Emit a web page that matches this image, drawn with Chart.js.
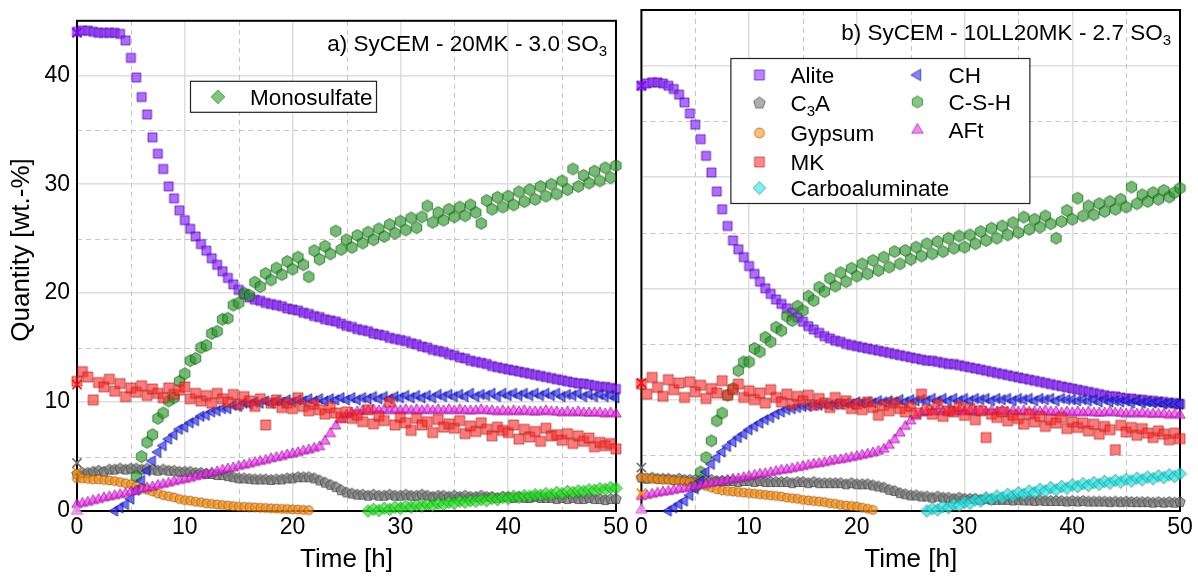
<!DOCTYPE html>
<html>
<head>
<meta charset="utf-8">
<script src="https://cdn.jsdelivr.net/npm/chart.js@4.4.1/dist/chart.umd.min.js"></script>
<style>
  html, body { margin: 0; padding: 0; background: #fff; }
  #wrap { position: relative; width: 1198px; height: 576px; }
  canvas { position: absolute; top: 0; }
  #ca { left: 0; }
  #cb { left: 632px; }
</style>
</head>
<body>
<div id="wrap">
  <canvas id="ca" width="632" height="576"></canvas>
  <canvas id="cb" width="566" height="576"></canvas>
</div>
<script>
// ---- axis ticks ----
const X_TICKS = [0, 10, 20, 30, 40, 50];
const Y_TICKS = [0, 10, 20, 30, 40];
const X_MINOR = [5, 15, 25, 35, 45];
const Y_MINOR = [5, 15, 25, 35];
const STEP = 0.5; // hours between measurements

// ---- panel a) SyCEM - 20MK - 3.0 SO3 ----
const ALITE_A = [
  44.0,44.1,44.1,44.0,43.9,43.9,43.9,43.9,43.8,43.2,
  41.6,39.8,38.0,36.4,34.3,32.8,31.4,29.8,28.7,27.6,
  26.7,25.9,25.2,24.5,23.9,23.2,22.6,22.0,21.4,20.8,
  20.3,19.9,19.6,19.4,19.3,19.1,19.0,18.9,18.8,18.6,
  18.5,18.4,18.2,18.1,17.9,17.8,17.6,17.5,17.4,17.2,
  17.0,16.9,16.7,16.6,16.5,16.3,16.2,16.1,15.9,15.8,
  15.7,15.6,15.4,15.3,15.1,15.0,14.8,14.7,14.6,14.4,
  14.3,14.1,14.0,13.8,13.7,13.6,13.5,13.3,13.2,13.1,
  13.0,12.9,12.8,12.7,12.6,12.5,12.4,12.3,12.2,12.1,
  12.0,11.9,11.8,11.7,11.7,11.6,11.5,11.4,11.4,11.3,
  11.2
];
const MK_A = [
  11.9,12.8,12.3,10.2,11.8,11.4,12.1,11.0,11.7,10.5,
  11.3,10.9,11.5,10.6,11.2,10.8,10.4,11.3,10.7,11.1,
  11.4,10.3,10.8,10.1,10.6,9.9,10.8,10.3,10.0,10.7,
  9.8,10.5,10.1,9.6,10.3,7.9,9.9,10.2,9.5,9.9,
  9.4,10.4,9.6,9.2,9.8,9.3,8.9,9.5,9.0,8.6,
  9.1,8.5,8.8,8.2,9.3,8.0,8.7,8.3,10.0,7.9,
  8.6,8.1,7.4,8.5,7.9,8.2,7.2,8.4,7.7,8.0,
  7.6,8.3,7.1,7.8,7.3,8.1,7.5,6.9,7.7,7.4,
  7.2,7.9,6.6,7.5,6.8,7.3,6.4,7.6,6.9,7.0,
  6.5,7.1,6.2,6.9,6.4,6.7,5.9,6.3,6.0,6.2,
  5.7
];
const C3A_A = [
  3.4,3.5,3.5,3.6,3.7,3.6,3.8,3.8,3.9,3.8,
  3.9,3.9,3.8,3.9,3.8,3.7,3.8,3.7,3.7,3.6,
  3.6,3.6,3.5,3.5,3.4,3.4,3.3,3.3,3.2,3.1,
  3.0,3.0,2.95,2.9,2.9,2.9,2.85,2.9,2.9,3.0,
  3.0,3.1,3.1,3.1,3.0,2.8,2.6,2.4,2.2,1.9,
  1.7,1.6,1.5,1.5,1.4,1.5,1.4,1.4,1.5,1.4,
  1.4,1.5,1.4,1.4,1.5,1.4,1.3,1.4,1.4,1.3,
  1.4,1.3,1.4,1.3,1.3,1.4,1.3,1.3,1.2,1.3,
  1.3,1.2,1.3,1.2,1.2,1.3,1.2,1.2,1.2,1.1,
  1.2,1.1,1.2,1.1,1.1,1.2,1.1,1.1,1.0,1.1,
  1.1
];
const GYPSUM_A = [
  3.0,3.0,2.95,2.9,2.9,2.85,2.8,2.75,2.65,2.55,
  2.45,2.3,2.1,1.95,1.8,1.6,1.45,1.35,1.25,1.1,
  1.0,0.95,0.85,0.8,0.7,0.65,0.6,0.55,0.5,0.45,
  0.4,0.38,0.35,0.33,0.3,0.28,0.25,0.22,0.2,0.18,
  0.15,0.13,0.1,0.08
];
const CH_A_START = 3.5;
const CH_A = [
  0.0,0.3,0.6,1.1,1.9,2.8,3.7,4.6,5.4,6.0,
  6.6,7.0,7.5,7.7,8.1,8.3,8.7,8.8,9.1,9.2,
  9.4,9.4,9.7,9.6,9.9,9.8,10.0,9.9,10.1,9.9,
  10.1,10.0,10.2,10.0,10.2,10.1,10.3,10.1,10.3,10.1,
  10.3,10.2,10.4,10.2,10.4,10.2,10.4,10.3,10.5,10.3,
  10.5,10.3,10.5,10.4,10.6,10.4,10.6,10.4,10.6,10.4,
  10.7,10.5,10.7,10.5,10.7,10.5,10.8,10.5,10.7,10.6,
  10.8,10.5,10.8,10.6,10.8,10.6,10.8,10.6,10.8,10.6,
  10.8,10.6,10.8,10.5,10.7,10.6,10.8,10.5,10.7,10.5,
  10.7,10.5,10.6,10.4
];
const CSH_A_START = 5.5;
const CSH_A = [
  3.2,5.0,6.3,7.0,8.5,9.0,10.1,10.4,11.9,12.6,
  13.8,14.0,15.0,15.2,16.3,16.5,17.6,17.7,18.9,19.1,
  20.0,19.8,21.0,20.6,21.8,21.2,22.3,21.7,22.9,22.2,
  23.3,22.6,21.5,23.9,23.1,24.3,23.6,25.7,24.0,24.9,
  24.2,25.3,24.6,25.6,24.9,25.9,25.2,26.3,25.5,26.6,
  25.8,26.9,26.0,27.0,28.0,26.5,27.4,26.7,27.7,27.0,
  27.9,27.1,28.1,27.4,26.4,28.5,27.7,28.8,27.9,28.9,
  28.1,29.3,28.4,29.5,28.6,29.8,28.9,30.0,29.1,30.3,
  29.5,31.4,29.8,30.8,30.1,31.2,30.3,31.5,30.6,31.7
];
const AFT_A = [
  0.6,0.7,0.8,0.95,1.05,1.2,1.3,1.4,1.5,1.6,
  1.75,1.85,2.0,2.1,2.2,2.35,2.45,2.55,2.7,2.8,
  2.9,3.0,3.15,3.25,3.4,3.5,3.6,3.75,3.85,3.95,
  4.1,4.2,4.3,4.45,4.55,4.65,4.8,4.9,5.0,5.15,
  5.25,5.35,5.5,5.6,5.75,5.9,6.4,7.1,7.8,8.4,
  8.8,9.0,9.1,9.2,9.2,9.3,9.2,9.3,9.2,9.3,
  9.2,9.3,9.2,9.3,9.2,9.3,9.2,9.3,9.2,9.3,
  9.2,9.3,9.2,9.2,9.2,9.3,9.2,9.2,9.1,9.2,
  9.1,9.2,9.1,9.2,9.1,9.1,9.1,9.2,9.1,9.1,
  9.0,9.1,9.0,9.1,9.0,9.0,9.0,9.0,8.9,9.0,
  8.9
];
const MONO_A_START = 27;
const MONO_A = [
  0.0,0.15,0.05,0.25,0.15,0.35,0.25,0.45,0.35,0.5,
  0.45,0.6,0.5,0.7,0.6,0.8,0.7,0.9,0.8,0.95,
  0.9,1.05,0.95,1.15,1.05,1.25,1.15,1.35,1.25,1.4,
  1.35,1.5,1.45,1.6,1.5,1.7,1.6,1.8,1.7,1.85,
  1.8,1.95,1.9,2.05,2.0,2.15,2.1
];

// ---- panel b) SyCEM - 10LL20MK - 2.7 SO3 ----
const ALITE_B = [
  38.2,38.4,38.5,38.5,38.4,38.2,37.9,37.4,36.7,35.7,
  34.7,33.4,31.9,30.4,28.7,27.1,25.6,24.3,23.5,22.8,
  22.0,21.3,20.6,20.0,19.5,19.0,18.6,18.2,17.8,17.4,
  17.0,16.6,16.3,16.0,15.7,15.5,15.3,15.2,15.0,14.9,
  14.8,14.7,14.6,14.5,14.4,14.3,14.2,14.1,14.0,13.9,
  13.8,13.7,13.6,13.5,13.5,13.4,13.3,13.2,13.2,13.1,
  13.0,12.9,12.8,12.7,12.6,12.5,12.4,12.3,12.2,12.1,
  12.0,11.9,11.8,11.7,11.6,11.5,11.4,11.3,11.2,11.1,
  11.0,10.9,10.8,10.7,10.6,10.5,10.4,10.3,10.3,10.2,
  10.1,10.1,10.0,10.0,9.9,9.9,9.8,9.8,9.7,9.7,
  9.6
];
const MK_B = [
  11.4,10.5,12.0,11.1,10.3,11.8,10.9,11.5,10.2,11.6,
  10.7,11.3,10.1,11.0,10.6,11.7,10.4,10.9,11.4,10.2,
  10.8,10.0,10.6,9.7,10.9,10.2,9.8,10.5,9.6,10.3,
  9.9,10.4,9.5,10.1,9.7,9.3,10.2,9.6,9.9,9.2,
  9.6,9.1,9.8,9.3,8.6,9.5,9.0,9.7,9.2,8.9,
  9.4,8.8,10.5,9.1,8.7,9.6,8.5,9.0,8.9,9.4,
  8.6,9.2,8.2,9.0,6.6,8.7,8.4,8.9,8.1,8.6,
  8.3,7.8,8.7,8.0,8.5,7.6,8.2,7.9,8.4,7.4,
  8.0,7.5,7.9,7.2,7.8,6.9,7.6,7.3,5.5,7.7,
  7.1,7.5,6.8,7.4,7.0,6.6,7.2,6.9,6.4,7.0,
  6.5
];
const C3A_B = [
  3.0,2.9,3.0,2.9,2.9,2.9,2.8,2.9,2.8,2.8,
  2.8,2.8,2.7,2.8,2.7,2.7,2.7,2.7,2.6,2.7,
  2.7,2.6,2.7,2.6,2.6,2.6,2.6,2.6,2.5,2.6,
  2.6,2.5,2.6,2.5,2.5,2.5,2.5,2.5,2.4,2.5,
  2.4,2.4,2.4,2.3,2.2,2.1,1.9,1.8,1.6,1.5,
  1.4,1.4,1.3,1.3,1.2,1.3,1.2,1.2,1.1,1.2,
  1.1,1.1,1.1,1.0,1.1,1.0,1.0,1.0,1.0,0.95,
  1.0,0.95,0.95,0.9,0.95,0.9,0.9,0.9,0.9,0.85,
  0.9,0.85,0.9,0.85,0.85,0.85,0.85,0.8,0.85,0.8,
  0.85,0.8,0.8,0.8,0.8,0.75,0.8,0.75,0.8,0.75,
  0.8
];
const GYPSUM_B = [
  3.0,2.95,2.9,2.85,2.8,2.8,2.75,2.7,2.65,2.6,
  2.5,2.4,2.25,2.1,1.95,1.85,1.8,1.75,1.7,1.65,
  1.6,1.55,1.5,1.45,1.4,1.35,1.3,1.2,1.15,1.1,
  1.0,0.95,0.9,0.85,0.8,0.7,0.65,0.55,0.5,0.45,
  0.4,0.3,0.2,0.1
];
const CARBO_B_START = 26.5;
const CARBO_B = [
  0.0,0.2,0.1,0.4,0.3,0.6,0.5,0.8,0.7,1.0,
  0.9,1.2,1.05,1.35,1.2,1.5,1.35,1.65,1.5,1.8,
  1.65,1.95,1.8,2.1,1.9,2.2,2.05,2.35,2.2,2.45,
  2.3,2.55,2.4,2.65,2.5,2.75,2.6,2.85,2.7,2.95,
  2.8,3.05,2.9,3.15,3.0,3.25,3.1,3.35
];
const CH_B_START = 2.5;
const CH_B = [
  0.0,0.3,0.6,0.9,1.4,2.0,2.7,3.5,4.2,4.8,
  5.3,5.8,6.2,6.6,6.9,7.3,7.6,7.9,8.2,8.4,
  8.7,8.9,9.1,9.2,9.3,9.4,9.4,9.5,9.5,9.6,
  9.5,9.6,9.6,9.7,9.6,9.8,9.7,9.8,9.7,9.9,
  9.8,9.9,9.8,10.0,9.8,10.0,9.9,10.0,9.9,10.1,
  9.9,10.1,9.9,10.1,9.9,10.1,9.9,10.1,10.0,10.1,
  9.9,10.1,10.0,10.1,9.9,10.1,10.0,10.1,9.9,10.1,
  10.0,10.1,9.9,10.1,10.0,10.0,9.9,10.0,9.9,10.0,
  9.8,10.0,9.8,9.9,9.8,9.9,9.7,9.9,9.7,9.8,
  9.7,9.8,9.6,9.7,9.6,9.6
];
const CSH_B_START = 5;
const CSH_B = [
  2.2,3.5,4.8,6.3,8.1,8.8,10.4,11.0,12.6,13.4,
  13.4,14.6,14.3,15.6,15.2,16.5,16.2,17.5,17.1,18.4,
  18.0,19.3,18.9,20.1,19.7,20.9,20.2,21.4,20.6,21.8,
  21.1,22.2,21.3,22.5,21.6,22.8,21.9,23.3,22.2,23.4,
  22.6,23.7,22.9,24.0,23.1,24.2,23.3,24.5,23.6,24.7,
  23.7,24.8,24.0,25.1,24.3,25.4,24.5,25.6,24.8,25.9,
  25.0,26.4,25.3,26.2,25.5,26.5,25.8,24.5,26.0,27.0,
  26.2,28.1,26.5,27.4,26.6,27.6,26.9,27.8,27.1,28.0,
  27.3,29.1,27.6,28.4,27.8,28.6,28.0,28.8,28.2,28.6,
  29.0
];
const AFT_B = [
  1.3,1.4,1.5,1.6,1.7,1.75,1.85,1.95,2.0,2.1,
  2.2,2.3,2.4,2.5,2.55,2.65,2.75,2.85,2.9,3.0,
  3.1,3.2,3.3,3.35,3.45,3.55,3.65,3.7,3.8,3.9,
  4.0,4.1,4.2,4.25,4.35,4.45,4.55,4.6,4.7,4.8,
  4.9,5.0,5.1,5.2,5.35,5.55,5.9,6.4,7.0,7.6,
  8.1,8.5,8.8,8.9,8.9,9.0,8.9,9.0,8.9,9.0,
  8.9,9.0,8.9,9.0,8.9,9.0,8.9,9.0,8.9,9.0,
  8.9,9.0,8.9,8.9,8.9,9.0,8.9,8.9,8.8,8.9,
  8.8,8.9,8.8,8.9,8.8,8.8,8.8,8.9,8.8,8.8,
  8.7,8.8,8.7,8.8,8.7,8.7,8.7,8.7,8.6,8.7,
  8.6
];

// initial (t = 0) values, shown as crosses
const INIT_NAMES = ['Alite', 'MK', 'C3A', 'Gypsum'];
const INIT_A = [43.9, 11.6, 4.4, 3.6];
const INIT_B = [38.2, 11.5, 3.9, 1.6];
const AFT0_A = 0.0;
const AFT0_B = 0.1;

const FONT = "'Liberation Sans', Arial, sans-serif";
Chart.defaults.font.family = FONT;
Chart.defaults.color = '#000';

// marker images (pentagon / hexagon / left triangle are not built in)
function marker(shape, size, fill, stroke) {
  const c = document.createElement('canvas');
  const d = Math.ceil(size + 4);
  c.width = c.height = d;
  const g = c.getContext('2d');
  const m = d / 2, r = size / 2;
  g.beginPath();
  if (shape === 'square') {
    g.rect(m - r, m - r, size, size);
  } else if (shape === 'circle') {
    g.arc(m, m, r, 0, Math.PI * 2);
  } else {
    const [n, a0, k] = {up: [3, -90, 1.2], left: [3, 180, 1.2], diamond: [4, -90, 1.15],
      pentagon: [5, -90, 1.1], hexagon: [6, -90, 1.08]}[shape];
    for (let i = 0; i < n; i++) {
      const a = (a0 + i * 360 / n) * Math.PI / 180;
      const px = m + Math.cos(a) * r * k, py = m + Math.sin(a) * r * k;
      if (i) g.lineTo(px, py); else g.moveTo(px, py);
    }
    g.closePath();
  }
  g.fillStyle = fill;
  g.fill();
  g.lineWidth = 0.8;
  g.strokeStyle = stroke;
  g.stroke();
  return c;
}

const MARK = {
  Alite: marker('square', 9, 'rgba(135,40,250,0.68)', 'rgba(70,0,150,0.85)'),
  C3A: marker('pentagon', 10, 'rgba(115,115,115,0.68)', 'rgba(55,55,55,0.85)'),
  Gypsum: marker('circle', 9, 'rgba(245,145,25,0.68)', 'rgba(140,70,0,0.85)'),
  MK: marker('square', 10, 'rgba(255,35,35,0.6)', 'rgba(150,25,25,0.75)'),
  Carboaluminate: marker('diamond', 11, 'rgba(40,225,225,0.68)', 'rgba(20,115,115,0.85)'),
  CH: marker('left', 10, 'rgba(45,45,250,0.68)', 'rgba(15,15,110,0.85)'),
  'C-S-H': marker('hexagon', 11, 'rgba(45,150,45,0.65)', 'rgba(15,80,15,0.85)'),
  AFt: marker('up', 10, 'rgba(240,45,240,0.68)', 'rgba(130,15,130,0.85)'),
  Monosulfate: marker('diamond', 11, 'rgba(40,225,40,0.68)', 'rgba(20,115,20,0.85)')
};
const LEG = {
  Alite: marker('square', 10, 'rgba(140,50,250,0.6)', 'rgba(80,10,160,0.8)'),
  C3A: marker('pentagon', 11, 'rgba(120,120,120,0.6)', 'rgba(60,60,60,0.8)'),
  Gypsum: marker('circle', 10, 'rgba(250,150,30,0.6)', 'rgba(150,80,0,0.8)'),
  MK: marker('square', 10, 'rgba(255,40,40,0.55)', 'rgba(150,30,30,0.7)'),
  Carboaluminate: marker('diamond', 11, 'rgba(40,230,230,0.6)', 'rgba(20,120,120,0.8)'),
  CH: marker('left', 11, 'rgba(50,50,255,0.6)', 'rgba(20,20,120,0.8)'),
  'C-S-H': marker('hexagon', 11, 'rgba(50,160,50,0.6)', 'rgba(20,90,20,0.8)'),
  AFt: marker('up', 11, 'rgba(240,50,240,0.6)', 'rgba(140,20,140,0.8)'),
  Monosulfate: marker('diamond', 12, '#7cc77c', '#4a8a4a')
};
const AFT0_MARK = marker('up', 11, 'rgba(245,150,245,0.9)', 'rgba(190,80,190,0.9)');
const CROSS_COLOR = {Alite: '#8a00ff', MK: '#ff1010', C3A: '#707070', Gypsum: '#ff8c00'};

function series(name, start, vals) {
  return {
    label: name,
    data: vals.map((v, i) => ({x: start + i * STEP, y: v})),
    pointStyle: MARK[name], pointRadius: 4, clip: false
  };
}
function initMarks(vals, aft0) {
  const sets = INIT_NAMES.map((n, i) => ({
    label: n + ' t0', data: [{x: 0, y: vals[i]}],
    pointStyle: 'crossRot', pointRadius: 6.5, borderWidth: 1.7,
    borderColor: CROSS_COLOR[n], clip: false
  }));
  sets.push({label: 'AFt t0', data: [{x: 0, y: aft0}], pointStyle: AFT0_MARK, pointRadius: 4, clip: false});
  return sets;
}

// text with subscripts: parts = [[text, isSub], ...]
function drawRich(ctx, parts, x, y, align) {
  const fonts = parts.map(p => p[1] ? '15px ' + FONT : '22.5px ' + FONT);
  let total = 0;
  const widths = parts.map((p, i) => { ctx.font = fonts[i]; const w = ctx.measureText(p[0]).width; total += w; return w; });
  let cx = align === 'right' ? x - total : x;
  ctx.textBaseline = 'alphabetic';
  ctx.textAlign = 'left';
  ctx.fillStyle = '#000';
  parts.forEach((p, i) => {
    ctx.font = fonts[i];
    ctx.fillText(p[0], cx, p[1] ? y + 5 : y);
    cx += widths[i];
  });
}

const decor = {
  id: 'decor',
  beforeDatasetsDraw(chart, args, o) {
    const {ctx, chartArea: a, scales: {x, y}} = chart;
    ctx.save();
    ctx.strokeStyle = '#c6c6c6';
    ctx.lineWidth = 1;
    ctx.setLineDash([5, 4]);
    ctx.beginPath();
    X_MINOR.forEach(v => { const px = Math.round(x.getPixelForValue(v)) + 0.5; ctx.moveTo(px, a.top); ctx.lineTo(px, a.bottom); });
    Y_MINOR.forEach(v => { const py = Math.round(y.getPixelForValue(v)) + 0.5; ctx.moveTo(a.left, py); ctx.lineTo(a.right, py); });
    ctx.stroke();
    ctx.setLineDash([]);
    ctx.strokeStyle = '#000';
    ctx.lineWidth = 2;
    ctx.strokeRect(a.left, a.top, a.right - a.left, a.bottom - a.top);
    ctx.restore();
  },
  afterDatasetsDraw(chart, args, o) {
    const {ctx, chartArea: a} = chart;
    ctx.save();
    drawRich(ctx, o.title, a.right - 9, a.top + 30, 'right');
    const b = o.box;
    ctx.fillStyle = '#fff';
    ctx.fillRect(a.left + b[0], a.top + b[1], b[2], b[3]);
    ctx.strokeStyle = '#222';
    ctx.lineWidth = 1.2;
    ctx.strokeRect(a.left + b[0] + 0.5, a.top + b[1] + 0.5, b[2], b[3]);
    o.entries.forEach(e => {
      const img = e.img;
      ctx.drawImage(img, a.left + e.mx - img.width / 2, a.top + e.y - img.height / 2);
      drawRich(ctx, e.parts, a.left + e.tx, a.top + e.y + 8, 'left');
    });
    if (o.yTitle) {
      ctx.translate(22, 250);
      ctx.rotate(-Math.PI / 2);
      ctx.font = '26px ' + FONT;
      ctx.textAlign = 'center';
      ctx.textBaseline = 'middle';
      ctx.fillStyle = '#000';
      ctx.fillText(o.yTitle, 0, 0);
    }
    ctx.restore();
  }
};

function axisOpts(showY, padRight, yWidth, deco) {
  return {
    responsive: false,
    animation: false,
    events: [],
    layout: {padding: {top: 10, right: padRight, left: 0, bottom: 0}},
    plugins: {legend: {display: false}, tooltip: {enabled: false}, decor: deco},
    scales: {
      x: {
        type: 'linear', min: 0, max: 50,
        afterBuildTicks: s => { s.ticks = X_TICKS.map(v => ({value: v})); },
        ticks: {font: {size: 23}, color: '#000', padding: 3, maxRotation: 0},
        grid: {color: '#dedede', lineWidth: 1.5, drawTicks: false},
        border: {display: false},
        title: {display: true, text: 'Time [h]', font: {size: 26}, color: '#000', padding: {top: 0, bottom: 1}},
        afterFit: s => { s.height = 65; }
      },
      y: {
        type: 'linear', min: 0, max: 45,
        afterBuildTicks: s => { s.ticks = Y_TICKS.map(v => ({value: v})); },
        ticks: {display: showY, font: {size: 23}, color: '#000', padding: 7},
        grid: {color: '#dedede', lineWidth: 1.5, drawTicks: false},
        border: {display: false},
        title: {display: false},
        afterFit: s => { s.width = yWidth; }
      }
    }
  };
}

const col1 = [65, 93, 123, 152, 178];
const col2 = [65, 92, 120];

new Chart(document.getElementById('ca'), {
  type: 'scatter',
  data: {
    datasets: [
      ...initMarks(INIT_A, AFT0_A),
      series('MK', 0, MK_A),
      series('AFt', 0, AFT_A),
      series('CH', CH_A_START, CH_A),
      series('C-S-H', CSH_A_START, CSH_A),
      series('Monosulfate', MONO_A_START, MONO_A),
      series('Gypsum', 0, GYPSUM_A),
      series('C3A', 0, C3A_A),
      series('Alite', 0, ALITE_A)
    ]
  },
  options: axisOpts(true, 16, 77, {
    title: [['a) SyCEM - 20MK - 3.0 SO', false], ['3', true]],
    yTitle: 'Quantity [wt.-%]',
    box: [113, 60, 186, 31],
    entries: [{img: LEG.Monosulfate, mx: 141, tx: 173, y: 76, parts: [['Monosulfate', false]]}]
  }),
  plugins: [decor]
});

new Chart(document.getElementById('cb'), {
  type: 'scatter',
  data: {
    datasets: [
      ...initMarks(INIT_B, AFT0_B),
      series('MK', 0, MK_B),
      series('AFt', 0, AFT_B),
      series('CH', CH_B_START, CH_B),
      series('C-S-H', CSH_B_START, CSH_B),
      series('Carboaluminate', CARBO_B_START, CARBO_B),
      series('Gypsum', 0, GYPSUM_B),
      series('C3A', 0, C3A_B),
      series('Alite', 0, ALITE_B)
    ]
  },
  options: axisOpts(false, 18, 9, {
    title: [['b) SyCEM - 10LL20MK - 2.7 SO', false], ['3', true]],
    box: [89, 48, 299, 145],
    entries: [
      {img: LEG.Alite, mx: 118, tx: 149, y: col1[0], parts: [['Alite', false]]},
      {img: LEG.C3A, mx: 118, tx: 149, y: col1[1], parts: [['C', false], ['3', true], ['A', false]]},
      {img: LEG.Gypsum, mx: 118, tx: 149, y: col1[2], parts: [['Gypsum', false]]},
      {img: LEG.MK, mx: 118, tx: 149, y: col1[3], parts: [['MK', false]]},
      {img: LEG.Carboaluminate, mx: 118, tx: 149, y: col1[4], parts: [['Carboaluminate', false]]},
      {img: LEG.CH, mx: 276, tx: 307, y: col2[0], parts: [['CH', false]]},
      {img: LEG['C-S-H'], mx: 276, tx: 307, y: col2[1], parts: [['C-S-H', false]]},
      {img: LEG.AFt, mx: 276, tx: 307, y: col2[2], parts: [['AFt', false]]}
    ]
  }),
  plugins: [decor]
});
</script>
</body>
</html>
